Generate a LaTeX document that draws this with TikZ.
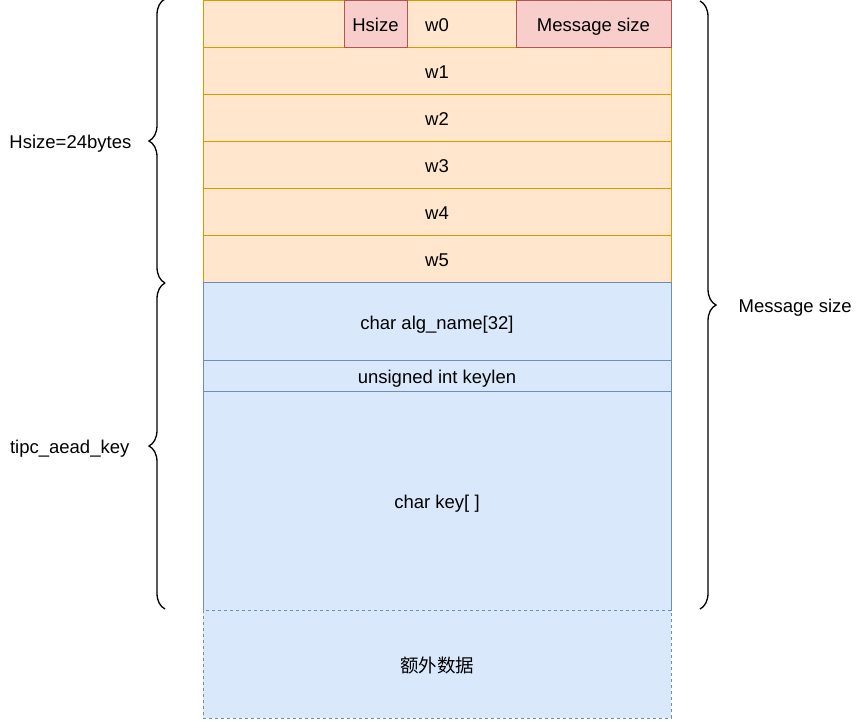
\documentclass[tikz,border=0pt]{standalone}
\usepackage{fontspec}
\setmainfont{Liberation Sans}
\newfontfamily\cjkfont{Noto Sans CJK SC}
\usetikzlibrary{positioning,decorations.pathreplacing}
\definecolor{hdrfill}{HTML}{FFE6CC}
\definecolor{hdrline}{HTML}{D79B00}
\definecolor{szfill}{HTML}{F8CECC}
\definecolor{szline}{HTML}{B85450}
\definecolor{keyfill}{HTML}{DAE8FC}
\definecolor{keyline}{HTML}{6C8EBF}

\begin{document}
\begin{tikzpicture}[x=1pt,y=-1pt,font=\fontsize{18.5}{22}\selectfont,
  row/.style={draw,minimum width=468pt,inner sep=0pt,outer sep=0pt,line width=0.9pt,text height=16pt,text depth=0pt},
  hdrrow/.style={row,fill=hdrfill,draw=hdrline,minimum height=47pt},
  sizefield/.style={draw=szline,fill=szfill,inner sep=0pt,outer sep=0pt,line width=0.9pt,minimum height=47pt,text height=16pt,text depth=0pt},
  keyrow/.style={row,fill=keyfill,draw=keyline},
  brace/.style={decorate,decoration={brace,amplitude=16pt},line width=1.3pt},
  bracelbl/.style={inner sep=0pt,yshift=-3pt}]
  \useasboundingbox (0,0) rectangle (866,720);
  % header words
  \node[hdrrow,anchor=north west] (w0) at (203,0) {w0};
  \foreach \i [count=\j from 0] in {1,...,5}
    \node[hdrrow,below=0pt of w\j] (w\i) {w\i};
  \node[sizefield,anchor=north west,minimum width=63pt] (hsz) at (344,0) {Hsize};
  \node[sizefield,anchor=north east,minimum width=155pt] (msz) at (671,0) {Message size};
  % key part
  \node[keyrow,minimum height=78pt,below=0pt of w5] (alg) {char alg\_name[32]};
  \node[keyrow,minimum height=31pt,below=0pt of alg] (klen) {unsigned int keylen};
  \node[keyrow,minimum height=219pt,below=0pt of klen] (key) {char key[ ]};
  \node[keyrow,dashed,minimum height=108pt,below=0pt of key] (extra) {\cjkfont 额外数据};
  % braces
  \draw[brace] ([xshift=-38pt,yshift=-1pt]w5.south west) -- ([xshift=-38pt,yshift=1pt]w0.north west)
    node[midway,left=33pt,bracelbl] (hlbl) {Hsize=24bytes};
  \draw[brace] ([xshift=-38pt,yshift=1pt]key.south west) -- ([xshift=-38pt,yshift=-1pt]alg.north west)
    node[midway,left=35pt,bracelbl] (klbl) {tipc\_aead\_key};
  \draw[brace] ([xshift=29pt,yshift=-1pt]w0.north east) -- ([xshift=29pt,yshift=1pt]key.south east)
    node[midway,right=38pt,bracelbl] (mlbl) {Message size};
\end{tikzpicture}
\end{document}
